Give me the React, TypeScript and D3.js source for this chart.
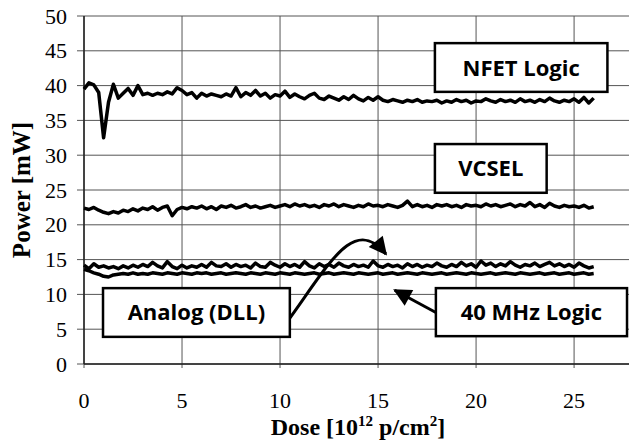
import React from 'react';
import * as d3 from 'd3';

// dose axis, 10^12 p/cm^2, sampled every 0.25
const doseStep = 0.25;

const nfetLogic = [
  39.5, 40.4, 40.1, 39.0, 32.5, 37.6, 40.2, 38.2, 38.9, 39.6, 38.6, 40.0, 38.7, 38.9, 38.6, 38.9,
  38.7, 39.1, 38.8, 39.7, 39.3, 38.7, 39.0, 38.2, 38.9, 38.5, 38.8, 38.6, 38.4, 38.8, 38.5, 39.7,
  38.4, 39.0, 38.6, 39.3, 38.5, 38.9, 38.2, 38.7, 38.5, 39.2, 38.3, 38.8, 38.4, 38.1, 38.6, 38.9,
  38.2, 38.0, 38.5, 38.2, 37.9, 38.4, 38.0, 38.6, 38.1, 37.8, 38.3, 37.9, 38.4, 37.9, 37.7, 38.0,
  37.8, 37.6, 37.9, 37.7, 38.0, 37.6, 37.8, 37.7, 37.9, 37.5, 37.8, 37.6, 38.0, 37.7, 37.9, 37.5,
  37.8, 37.7, 38.1, 37.8, 37.6, 38.0, 37.7, 37.9, 37.6, 38.1, 37.7, 37.9, 37.6, 38.0, 37.7, 38.2,
  37.8, 37.6, 37.9, 37.7, 38.1, 37.6, 38.3, 37.5, 38.2,
];

const vcsel = [
  22.4, 22.2, 22.5, 22.1, 21.8, 21.6, 21.9, 21.7, 22.1, 21.9, 22.3, 22.0, 22.4, 22.2, 22.6, 22.1,
  22.5, 22.7, 21.3, 22.2, 22.5, 22.3, 22.6, 22.4, 22.7, 22.3, 22.6, 22.2, 22.7, 22.5, 22.8, 22.4,
  22.6, 22.9, 22.5, 22.7, 22.4, 22.6, 22.8, 22.5, 22.7, 22.9, 22.6, 23.0, 22.7, 22.9, 22.6, 22.8,
  22.5, 22.9, 22.7, 23.0, 22.6, 22.9, 22.7, 22.5, 22.8, 22.6, 23.0, 22.7, 22.8, 22.6, 22.9, 22.7,
  22.5, 22.8, 23.4, 22.6, 22.9, 22.6, 22.8, 22.5, 22.9, 22.7, 22.9, 22.6, 22.8, 22.5, 22.9, 22.7,
  22.8, 22.6, 23.0, 22.7, 22.9, 22.6, 22.8, 23.0, 22.6, 22.9, 22.7, 23.2, 22.6, 22.9, 22.5, 23.1,
  22.7, 22.5, 22.8, 22.6, 22.7, 22.5, 22.8, 22.4, 22.6,
];

const analogDll = [
  14.2, 13.7, 14.4, 13.9, 14.1, 13.8, 14.0, 13.7, 14.1, 13.8, 14.2, 13.9, 14.3, 14.0, 14.6, 14.1,
  13.8, 14.7, 14.0, 13.7, 14.2, 13.8, 14.1, 13.9, 14.3, 13.9, 14.6, 14.1, 14.0, 14.4, 13.9, 14.3,
  14.0, 14.2, 13.8, 14.5, 14.0, 13.9, 14.6, 14.2, 13.9, 14.4, 14.0, 14.3, 13.9, 14.7, 14.1, 13.8,
  14.4, 14.0, 14.3, 13.9, 14.5, 14.1, 13.9, 14.3, 14.0, 14.2, 13.9, 14.8, 14.1, 13.9, 14.3, 14.0,
  14.2, 13.8, 14.4, 14.0, 14.3, 13.9, 14.2, 14.0, 14.5, 14.1, 13.9, 14.3, 14.0, 14.6, 14.1, 14.4,
  13.9, 14.8, 14.2, 14.5, 14.0, 14.4, 14.1, 14.7, 14.2, 13.9, 14.3, 14.1, 14.5, 14.0, 14.3, 14.6,
  14.1, 14.4, 14.0, 14.3, 13.9, 14.5, 14.1, 13.8, 14.0,
];

const mhz40Logic = [
  13.6, 13.4, 13.1, 12.9, 12.6, 12.5, 12.8, 12.9, 13.0, 12.9, 13.1, 12.9, 13.0, 12.9, 13.1, 13.0,
  12.9, 13.1, 13.0, 12.9, 13.1, 13.0, 12.9, 13.1, 13.0, 13.1, 12.9, 13.0, 13.1, 12.9, 13.0, 13.1,
  13.0, 12.9, 13.1, 13.0, 12.9, 13.1, 13.0, 12.9, 13.1, 13.0, 12.9, 13.1, 13.0, 12.9, 13.0, 13.1,
  12.9, 13.0, 13.1, 12.9, 13.0, 13.1, 13.0, 12.9, 13.1, 13.0, 12.9, 13.0, 13.1, 12.9, 13.0, 13.1,
  12.9, 13.0, 13.1, 13.0, 12.9, 13.1, 13.0, 12.9, 13.0, 13.1, 12.9, 13.0, 13.1, 13.0, 12.9, 13.1,
  13.0, 12.9, 13.0, 13.1, 12.9, 13.0, 13.1, 13.0, 12.9, 13.1, 13.0, 12.9, 13.0, 13.1, 12.9, 13.0,
  13.1, 12.9, 13.0, 13.1, 12.9, 13.0, 13.1, 12.9, 13.0,
];

const xTicks = [0, 5, 10, 15, 20, 25];
const yTicks = [0, 5, 10, 15, 20, 25, 30, 35, 40, 45, 50];

// label boxes in data units: [x0, x1, yTop, yBottom]
const labels = [
  { text: 'NFET Logic', box: [17.9, 26.7, 46.1, 39.1] },
  { text: 'VCSEL', box: [17.9, 23.6, 31.6, 24.6] },
  { text: 'Analog (DLL)', box: [0.97, 10.5, 10.9, 3.9] },
  { text: '40 MHz Logic', box: [17.95, 27.7, 10.9, 4.0] },
];

const serif = '"Liberation Serif", "Times New Roman", serif';
const sans = '"Open Sans", "DejaVu Sans", sans-serif';

export default function App() {
  const W = 629, H = 442;
  const x = d3.scaleLinear().domain([0, 27.75]).range([84, 628]);
  const y = d3.scaleLinear().domain([0, 50]).range([364, 16]);

  const line = d3.line<number>()
    .x((d, i) => x(i * doseStep))
    .y(d => y(d))
    .curve(d3.curveLinear);

  const series = [nfetLogic, vcsel, analogDll, mhz40Logic];

  // annotation arrows (data units)
  const analogArrow = d3.path();
  analogArrow.moveTo(x(10.5), y(6.6));
  analogArrow.bezierCurveTo(x(12.55), y(14.6), x(13.8), y(21.4), x(15.4), y(15.8));
  const mhzArrow = d3.path();
  mhzArrow.moveTo(x(17.95), y(7.4));
  mhzArrow.lineTo(x(15.85), y(10.6));

  return (
    <svg width={W} height={H} style={{ position: 'absolute', left: 0, top: 0, background: '#fff' }}>
      <defs>
        <marker id="head" viewBox="0 0 10 10" refX="9" refY="5" markerWidth="22" markerHeight="18"
          markerUnits="userSpaceOnUse" orient="auto">
          <path d="M0,0 L10,5 L0,10 z" fill="#000" />
        </marker>
      </defs>

      {/* grid */}
      {yTicks.map(t => (
        <line key={'gy' + t} x1={x(0) - 7} x2={W} y1={y(t)} y2={y(t)} stroke="#555" strokeWidth={1} />
      ))}
      {xTicks.map(t => (
        <line key={'gx' + t} x1={x(t)} x2={x(t)} y1={y(50)} y2={y(0) + 4} stroke="#555" strokeWidth={1} />
      ))}
      <line x1={x(0)} x2={x(0)} y1={y(50)} y2={y(0)} stroke="#222" strokeWidth={1.5} />
      <line x1={x(0)} x2={W} y1={y(0)} y2={y(0)} stroke="#222" strokeWidth={1.5} />

      {/* tick labels */}
      {yTicks.map(t => (
        <text key={'ly' + t} x={67} y={y(t) + 7.5} textAnchor="end" fontFamily={serif} fontSize={22}>{t}</text>
      ))}
      {xTicks.map(t => (
        <text key={'lx' + t} x={x(t)} y={408} textAnchor="middle" fontFamily={serif} fontSize={22}>{t}</text>
      ))}

      {/* axis titles */}
      <text x={358} y={435} textAnchor="middle" fontFamily={serif} fontSize={24} fontWeight="bold">
        Dose [10<tspan dy={-9} fontSize={15}>12</tspan><tspan dy={9}> p/cm</tspan><tspan dy={-9} fontSize={15}>2</tspan><tspan dy={9}>]</tspan>
      </text>
      <text transform={`translate(30,${190}) rotate(-90)`} textAnchor="middle" fontFamily={serif} fontSize={25} fontWeight="bold">
        Power [mW]
      </text>

      {/* data */}
      {series.map((s, i) => (
        <path key={'s' + i} d={line(s) || ''} fill="none" stroke="#000" strokeWidth={3.5} strokeLinejoin="round" />
      ))}

      {/* annotations */}
      <path d={analogArrow.toString()} fill="none" stroke="#000" strokeWidth={3} markerEnd="url(#head)" />
      <path d={mhzArrow.toString()} fill="none" stroke="#000" strokeWidth={3} markerEnd="url(#head)" />
      {labels.map(l => {
        const [x0, x1, yt, yb] = l.box;
        const cx = (x(x0) + x(x1)) / 2, cy = (y(yt) + y(yb)) / 2;
        return (
          <g key={l.text}>
            <rect x={x(x0)} y={y(yt)} width={x(x1) - x(x0)} height={y(yb) - y(yt)} fill="#fff" stroke="#000" strokeWidth={2.5} />
            <text x={cx} y={cy + 8} textAnchor="middle" fontFamily={sans} fontWeight="bold" fontSize={22}>{l.text}</text>
          </g>
        );
      })}
    </svg>
  );
}
